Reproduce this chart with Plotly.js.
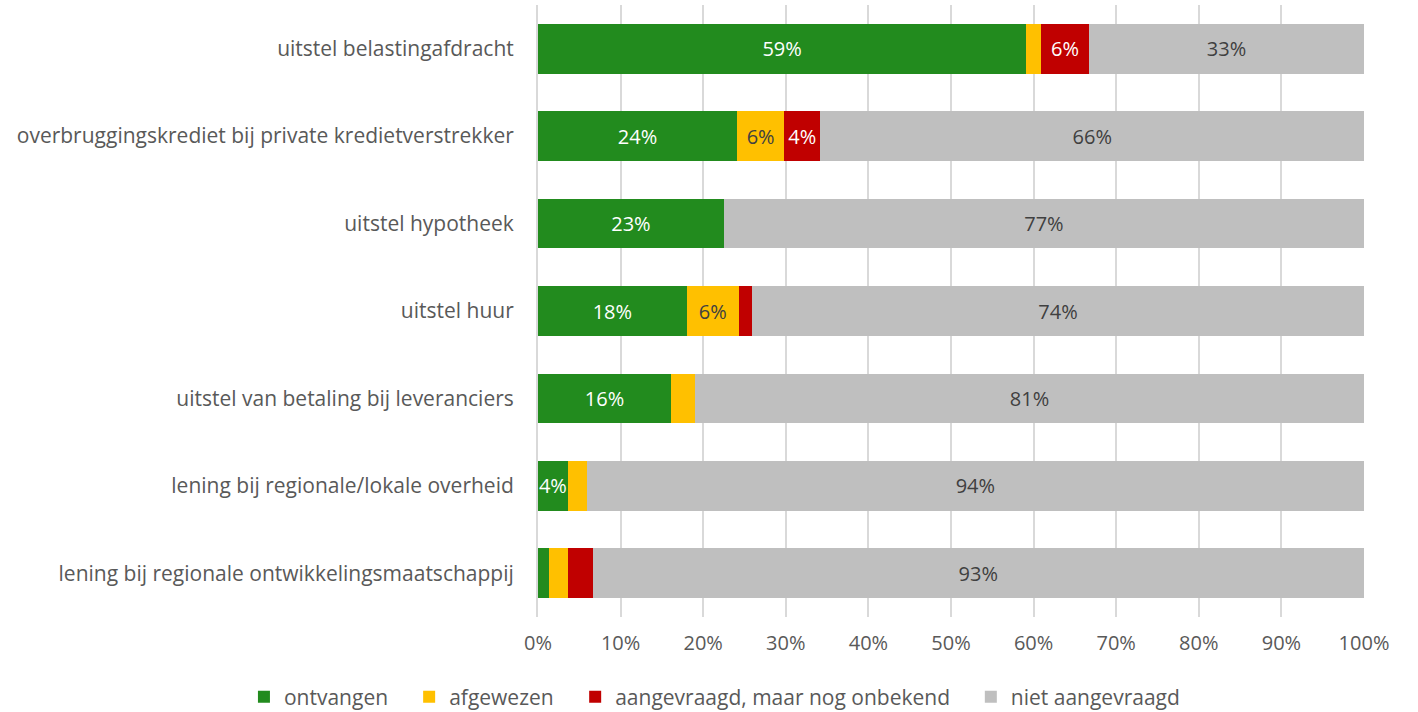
<!DOCTYPE html>
<html>
<head>
<meta charset="utf-8">
<script src="https://cdn.plot.ly/plotly-3.0.1.min.js"></script>
<style>html,body{margin:0;padding:0;background:#fff;}#chart{width:1418px;height:712px;}</style>
</head>
<body>
<div id="chart"></div>
<script>
const categories = [
  "uitstel belastingafdracht",
  "overbruggingskrediet bij private kredietverstrekker",
  "uitstel hypotheek",
  "uitstel huur",
  "uitstel van betaling bij leveranciers",
  "lening bij regionale/lokale overheid",
  "lening bij regionale ontwikkelingsmaatschappij"
];
const seriesNames = ["ontvangen", "afgewezen", "aangevraagd, maar nog onbekend", "niet aangevraagd"];
const ontvangen   = [59.1, 24.1, 22.5, 18.0, 16.1, 3.6, 1.3];
const afgewezen   = [1.8, 5.7, 0, 6.3, 2.9, 2.3, 2.3];
const aangevraagd = [5.8, 4.4, 0, 1.6, 0, 0, 3.0];
const niet        = [33.3, 65.8, 77.5, 74.1, 81.0, 94.1, 93.4];
const labelsOntvangen   = ["59%", "24%", "23%", "18%", "16%", "4%", ""];
const labelsAfgewezen   = ["", "6%", "", "6%", "", "", ""];
const labelsAangevraagd = ["6%", "4%", "", "", "", "", ""];
const labelsNiet        = ["33%", "66%", "77%", "74%", "81%", "94%", "93%"];
const xTickVals = [0,10,20,30,40,50,60,70,80,90,100];
const xTickText = ["0%","10%","20%","30%","40%","50%","60%","70%","80%","90%","100%"];

const FONT = "Open Sans, sans-serif";
const colors = ["#228B1E", "#FFC000", "#C00000", "#BFBFBF"];
const textColors = ["#ffffff", "#404040", "#ffffff", "#404040"];
const values = [ontvangen, afgewezen, aangevraagd, niet];
const labels = [labelsOntvangen, labelsAfgewezen, labelsAangevraagd, labelsNiet];
const legendIds = ["legend", "legend2", "legend3", "legend4"];
const legendX = [-0.356, -0.156, 0.045, 0.524];

const data = values.map((v, i) => ({
  type: "bar",
  orientation: "h",
  name: seriesNames[i],
  legend: legendIds[i],
  y: categories,
  x: v,
  text: labels[i],
  texttemplate: "%{text}",
  textposition: "inside",
  insidetextanchor: "middle",
  textangle: 0,
  constraintext: "none",
  cliponaxis: false,
  textfont: {family: FONT, size: 20, color: textColors[i]},
  marker: {color: colors[i], line: {width: 0}},
  hoverinfo: "skip"
}));

const layout = {
  width: 1418, height: 712,
  margin: {l: 538, r: 54, t: 5, b: 95, autoexpand: false},
  barmode: "stack",
  bargap: 0.43,
  paper_bgcolor: "#fff",
  plot_bgcolor: "#fff",
  font: {family: FONT, size: 20, color: "#595959"},
  xaxis: {
    range: [0, 100], tickvals: xTickVals, ticktext: xTickText,
    showgrid: true, gridcolor: "#D9D9D9", gridwidth: 2,
    zeroline: false, showline: false, ticks: "",
    ticklabelstandoff: 12,
    tickfont: {family: FONT, size: 20, color: "#595959"},
    automargin: false,
    fixedrange: true
  },
  yaxis: {
    autorange: "reversed", ticks: "", ticklen: 0,
    showline: true, linecolor: "#D9D9D9", linewidth: 2,
    tickfont: {family: FONT, size: 21, color: "#595959"},
    ticklabelstandoff: 18,
    automargin: false,
    fixedrange: true
  },
  showlegend: true
};
legendIds.forEach((id, i) => {
  layout[id] = {
    orientation: "h", x: legendX[i], xanchor: "left", xref: "paper",
    y: -0.131, yanchor: "middle", yref: "paper",
    font: {family: FONT, size: 21, color: "#595959"},
    itemwidth: 30, bgcolor: "rgba(0,0,0,0)"
  };
});

Plotly.newPlot("chart", data, layout, {displayModeBar: false, staticPlot: true});
</script>
</body>
</html>
